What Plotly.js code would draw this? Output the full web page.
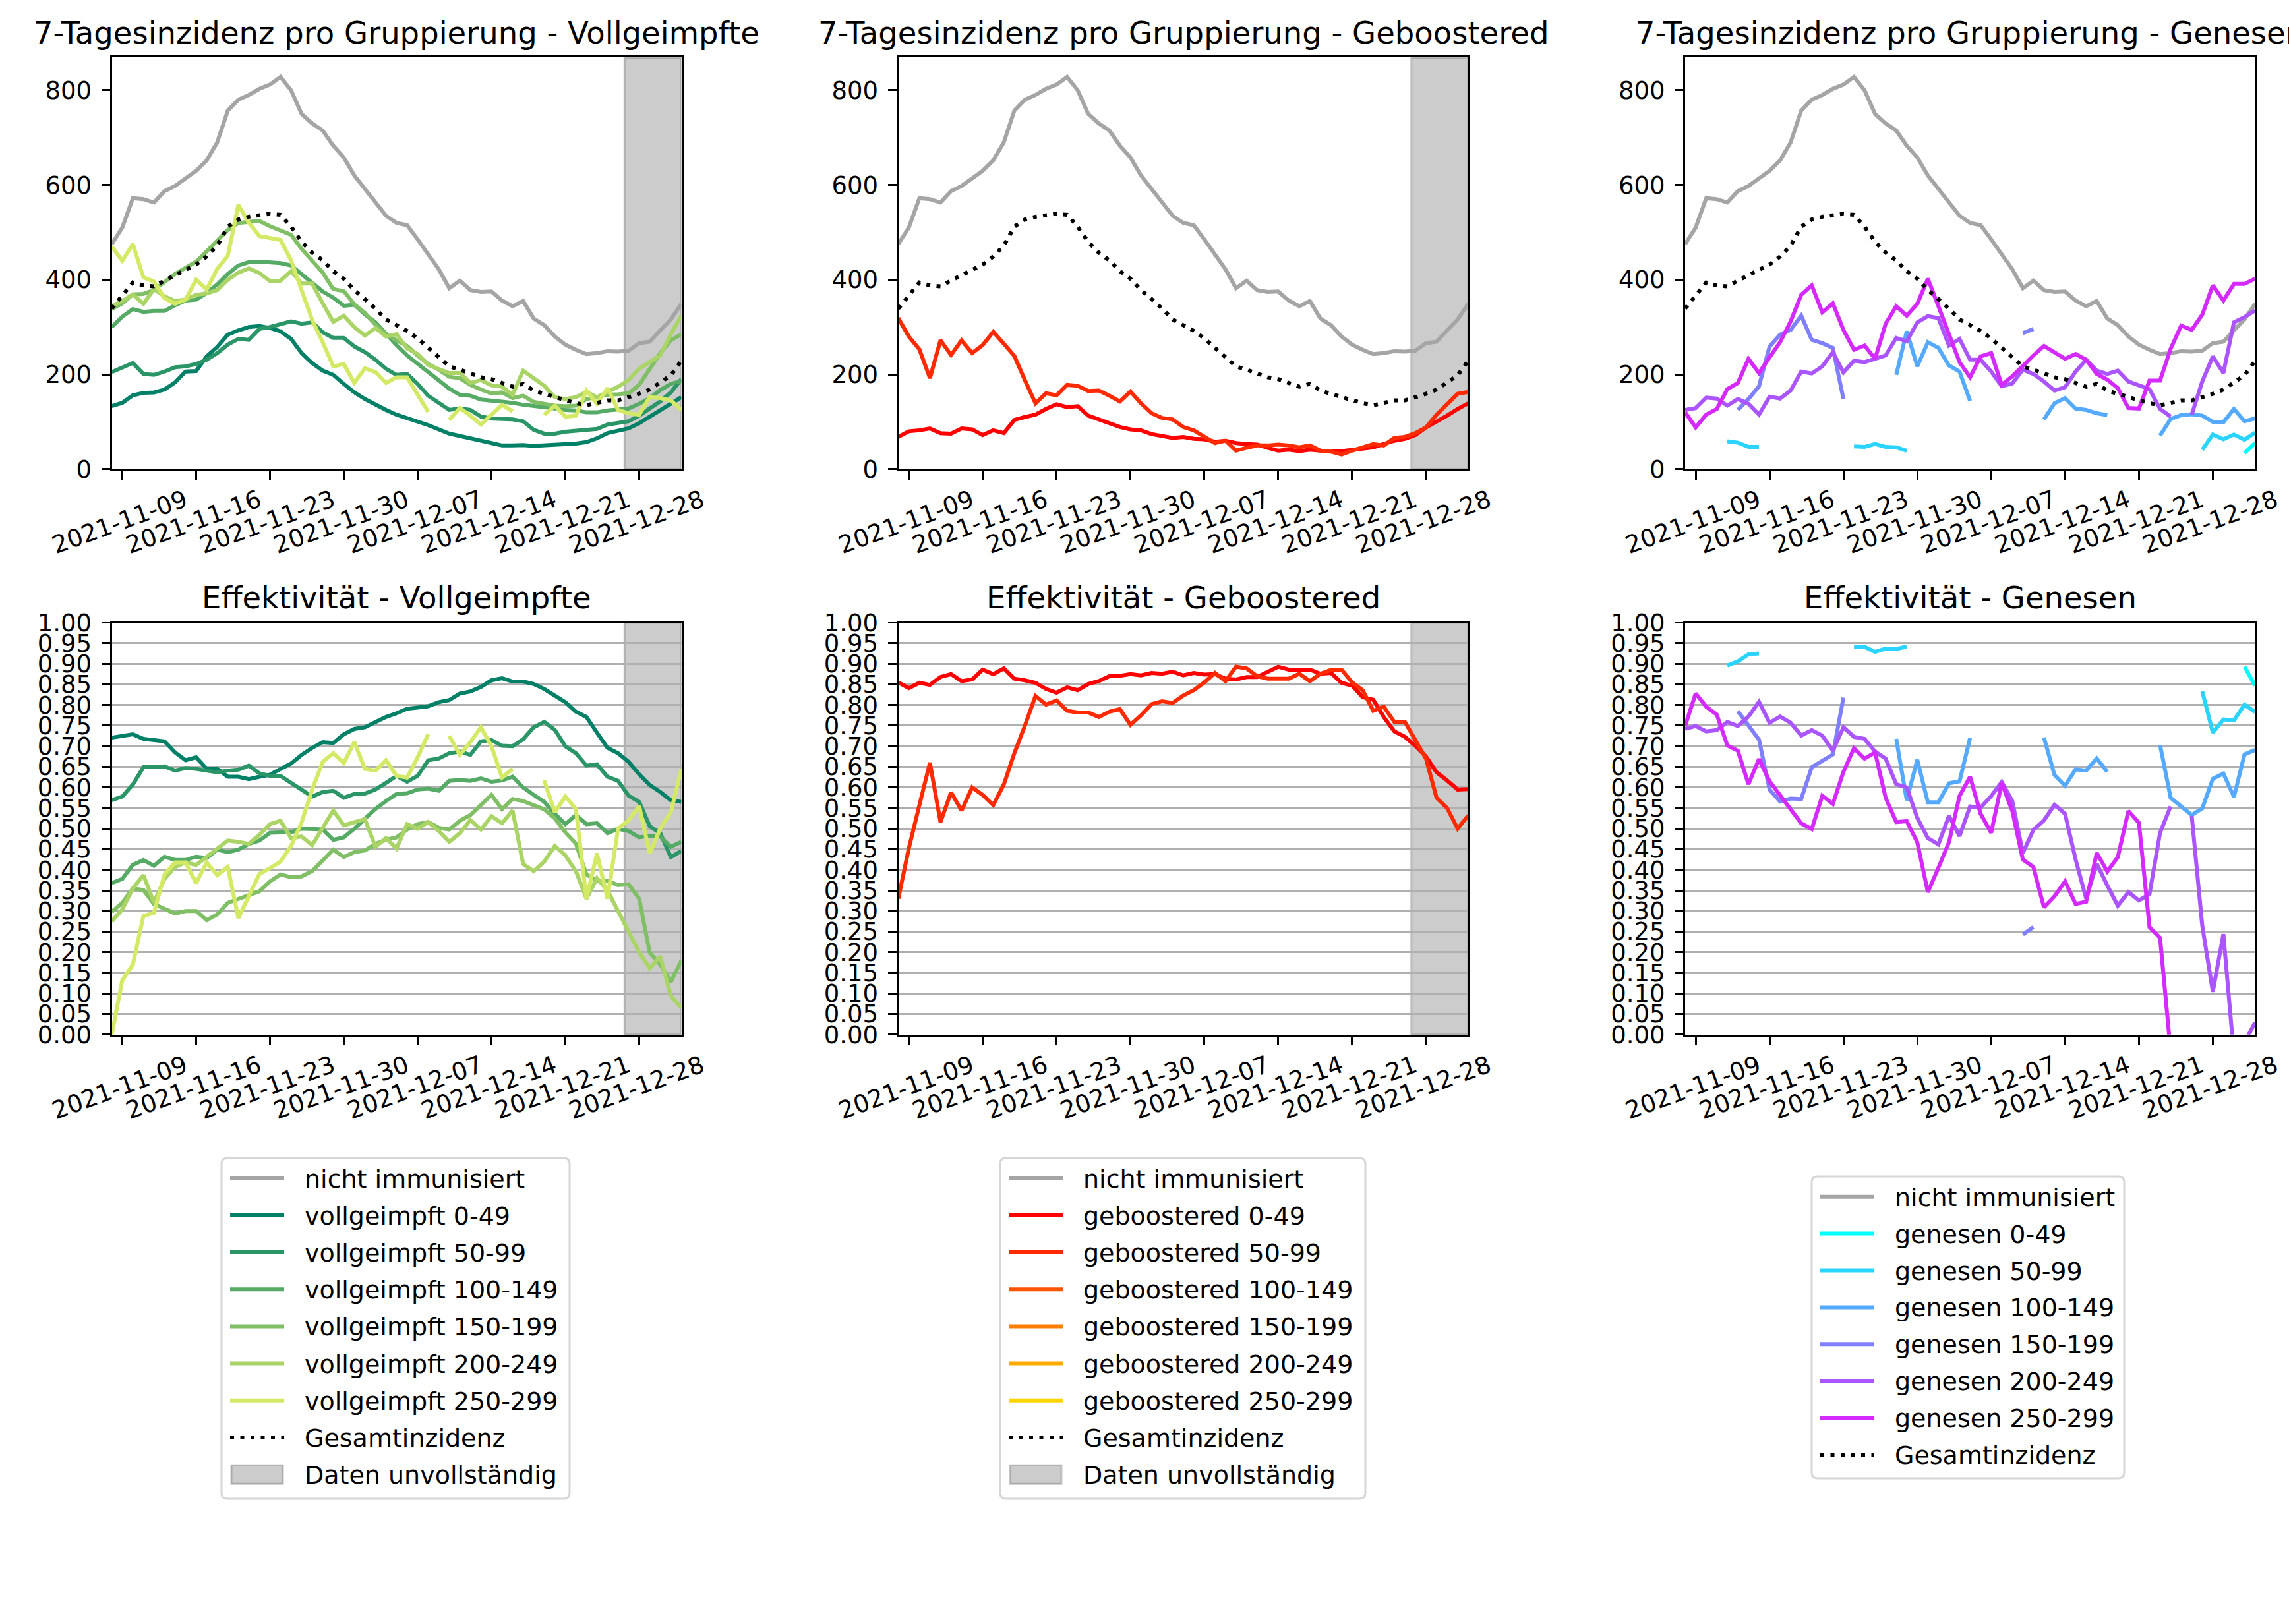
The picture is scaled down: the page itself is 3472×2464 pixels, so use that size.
<!DOCTYPE html>
<html><head><meta charset="utf-8">
<script src="https://cdn.plot.ly/plotly-3.0.1.min.js"></script>
<style>html,body{margin:0;padding:0;background:#fff;}</style>
</head><body>
<div id="chart" style="width:3472px;height:2464px;"></div>
<script>
// ---------------- DATA ----------------
const dates = ['2021-11-08','2021-11-09','2021-11-10','2021-11-11','2021-11-12','2021-11-13','2021-11-14','2021-11-15','2021-11-16','2021-11-17','2021-11-18','2021-11-19','2021-11-20','2021-11-21','2021-11-22','2021-11-23','2021-11-24','2021-11-25','2021-11-26','2021-11-27','2021-11-28','2021-11-29','2021-11-30','2021-12-01','2021-12-02','2021-12-03','2021-12-04','2021-12-05','2021-12-06','2021-12-07','2021-12-08','2021-12-09','2021-12-10','2021-12-11','2021-12-12','2021-12-13','2021-12-14','2021-12-15','2021-12-16','2021-12-17','2021-12-18','2021-12-19','2021-12-20','2021-12-21','2021-12-22','2021-12-23','2021-12-24','2021-12-25','2021-12-26','2021-12-27','2021-12-28','2021-12-29','2021-12-30','2021-12-31','2022-01-01'];
const tickDates = ['2021-11-09','2021-11-16','2021-11-23','2021-11-30','2021-12-07','2021-12-14','2021-12-21','2021-12-28'];
const tickLabels = ['2021-11-09','2021-11-16','2021-11-23','2021-11-30','2021-12-07','2021-12-14','2021-12-21','2021-12-28'];
const incompleteStart = '2021-12-26 14:40';
const incompleteEnd = '2022-01-01';

const nichtImmunisiert = [475,510,572,570,563,587,598,615,630,652,690,757,780,790,803,812,828,800,750,730,715,683,658,620,592,562,535,520,515,485,455,422,382,398,378,374,375,356,344,355,318,304,280,263,252,243,245,249,248,250,266,269,293,316,349];
const gesamtInzidenz = [339,367,394,388,386,398,410,421,432,449,472,512,527,533,537,539,537,512,480,457,441,418,402,378,359,339,316,304,292,276,257,237,217,210,202,194,190,182,174,180,166,159,152,144,139,135,141,145,145,151,159,168,182,198,229];

// Vollgeimpfte - 7-Tagesinzidenz
const vollInz_0_49 = [133,140,156,161,162,168,183,206,207,238,258,284,293,300,302,298,291,275,245,224,208,199,180,162,148,136,125,115,108,100,93,84,75,70,66,60,55,50,50,51,49,50,51,51,54,57,65,76,80,86,97,110,125,138,152];
const vollInz_50_99 = [205,215,224,201,199,206,215,217,222,231,245,263,275,273,296,300,305,312,307,310,289,277,277,259,247,231,212,199,201,180,155,141,125,128,125,111,107,106,105,101,83,75,75,79,81,84,85,94,97,101,113,127,143,162,190];
const vollInz_100_149 = [300,322,338,332,334,334,346,356,358,372,390,412,430,437,438,436,435,430,412,395,375,362,345,347,327,310,285,262,240,222,205,188,170,157,155,147,145,143,140,136,134,131,128,125,124,120,120,124,125,128,138,150,167,180,186];
const vollInz_150_199 = [338,350,369,370,378,395,412,425,438,460,482,505,520,522,524,513,505,495,465,440,415,380,376,348,330,305,285,272,260,240,222,210,195,192,178,168,160,162,150,155,142,138,134,133,134,148,152,157,158,160,178,212,245,272,285];
const vollInz_200_249 = [344,355,369,349,380,365,355,358,368,371,378,400,415,424,414,397,398,418,392,392,350,311,324,300,282,298,280,285,255,243,220,212,203,203,182,188,177,174,157,208,192,176,152,148,152,163,152,162,174,188,212,226,240,285,324];
const vollInz_250_299 = [470,440,475,405,396,361,349,358,400,379,423,450,558,520,492,488,484,441,378,315,268,217,222,182,213,205,182,194,194,159,121,null,104,129,113,94,115,136,122,null,null,115,134,111,113,166,138,171,125,118,115,152,150,145,125];

// Geboostered - 7-Tagesinzidenz
const boostInz_0_49 = [68,80,82,86,76,75,86,84,72,82,76,104,110,115,127,137,131,133,113,105,96,89,84,82,74,71,66,68,64,63,58,60,55,53,52,45,39,41,38,41,39,37,38,41,45,46,53,60,64,72,88,100,113,127,139];
const boostInz_50_99 = [319,280,253,192,272,241,272,245,262,290,265,239,188,139,160,156,178,176,165,166,155,143,164,139,118,108,105,89,82,68,55,60,39,45,50,50,52,50,46,50,39,37,31,39,45,53,50,66,68,76,88,115,137,159,163];
const boostInz_100_149 = [null];
const boostInz_150_199 = [null];
const boostInz_200_249 = [null];
const boostInz_250_299 = [null];

// Genesen - 7-Tagesinzidenz
const genInz_0_49 = [null,null,null,null,null,null,null,null,null,null,null,null,null,null,null,null,null,null,null,null,null,null,null,null,null,null,null,null,null,null,null,null,null,null,null,null,null,null,null,null,null,null,null,null,null,null,null,null,null,null,null,null,null,34,55];
const genInz_50_99 = [null,null,null,null,59,56,47,47,null,null,null,null,null,null,null,null,48,47,53,47,46,39,null,null,null,null,null,null,null,null,null,null,null,null,null,null,null,null,null,null,null,null,null,null,null,null,null,null,null,41,73,63,73,62,77];
const genInz_100_149 = [null,null,null,null,null,null,null,null,null,null,null,null,null,null,null,null,null,null,null,null,199,291,217,268,256,219,206,144,null,null,null,null,null,null,105,139,150,128,125,118,114,null,null,null,null,71,106,114,116,113,100,99,127,101,107];
const genInz_150_199 = [null,null,null,null,null,125,148,175,259,284,294,324,273,266,256,148,null,null,null,null,null,null,null,null,null,null,null,null,null,null,null,null,287,296,null,null,null,null,null,null,null,null,null,null,null,null,null,null,null,null,null,null,null,null,null];
const genInz_200_249 = [125,129,151,149,134,148,138,115,153,149,166,206,202,217,247,204,229,226,233,240,277,270,310,323,319,261,275,231,231,206,175,181,210,201,185,166,173,206,231,208,201,208,185,178,169,127,111,null,115,185,238,203,310,321,335];
const genInz_250_299 = [120,88,115,127,169,182,233,203,236,268,312,368,388,331,350,294,252,261,233,307,344,324,349,402,344,282,226,194,238,245,178,196,219,240,260,247,233,243,231,201,189,171,129,128,187,187,254,303,294,326,388,356,391,391,402];

// Effektivität - Vollgeimpfte
const vollEff_0_49 = [0.721,0.725,0.729,0.718,0.714,0.712,0.685,0.666,0.673,0.645,0.645,0.626,0.626,0.62,0.626,0.631,0.645,0.658,0.679,0.696,0.71,0.708,0.729,0.742,0.746,0.759,0.771,0.78,0.791,0.794,0.797,0.807,0.812,0.828,0.833,0.844,0.86,0.865,0.857,0.857,0.851,0.839,0.822,0.807,0.784,0.771,0.733,0.696,0.683,0.662,0.632,0.606,0.589,0.569,0.565];
const vollEff_50_99 = [0.569,0.578,0.607,0.649,0.649,0.651,0.641,0.647,0.645,0.641,0.637,0.641,0.643,0.653,0.634,0.628,0.628,0.611,0.595,0.578,0.589,0.592,0.575,0.584,0.585,0.595,0.611,0.628,0.614,0.628,0.666,0.67,0.683,0.687,0.679,0.712,0.715,0.701,0.7,0.717,0.746,0.759,0.74,0.7,0.683,0.653,0.656,0.626,0.616,0.58,0.565,0.506,0.489,0.431,0.446];
const vollEff_100_149 = [0.368,0.378,0.412,0.424,0.41,0.432,0.424,0.424,0.432,0.429,0.449,0.443,0.449,0.463,0.471,0.49,0.491,0.491,0.5,0.5,0.498,0.473,0.479,0.5,0.523,0.548,0.567,0.584,0.586,0.595,0.597,0.592,0.616,0.618,0.616,0.622,0.614,0.617,0.626,0.6,0.582,0.565,0.536,0.511,0.533,0.511,0.513,0.489,0.5,0.494,0.479,0.483,0.481,0.456,0.468];
const vollEff_150_199 = [0.298,0.32,0.355,0.351,0.317,0.306,0.294,0.3,0.3,0.278,0.292,0.32,0.33,0.34,0.348,0.372,0.389,0.382,0.384,0.397,0.424,0.449,0.431,0.443,0.447,0.463,0.473,0.479,0.498,0.511,0.516,0.502,0.498,0.519,0.533,0.558,0.582,0.547,0.572,0.567,0.557,0.547,0.525,0.491,0.464,0.389,0.372,0.373,0.363,0.365,0.33,0.199,0.17,0.128,0.18];
const vollEff_200_249 = [0.275,0.304,0.355,0.387,0.321,0.378,0.407,0.418,0.412,0.431,0.452,0.471,0.468,0.463,0.485,0.511,0.519,0.477,0.481,0.46,0.502,0.544,0.508,0.516,0.523,0.456,0.477,0.452,0.511,0.5,0.516,0.494,0.468,0.489,0.521,0.498,0.53,0.513,0.544,0.414,0.397,0.42,0.458,0.435,0.397,0.33,0.38,0.35,0.3,0.254,0.2,0.161,0.19,0.094,0.065];
const vollEff_250_299 = [0.0,0.132,0.17,0.288,0.296,0.389,0.418,0.418,0.368,0.418,0.387,0.407,0.283,0.338,0.39,0.404,0.42,0.458,0.515,0.595,0.662,0.683,0.659,0.71,0.645,0.641,0.666,0.628,0.624,0.673,0.729,null,0.725,0.679,0.71,0.746,0.7,0.624,0.645,null,null,0.617,0.54,0.578,0.548,0.33,0.44,0.33,0.5,0.52,0.555,0.44,0.5,0.54,0.645];

// Effektivität - Geboostered
const boostEff_0_49 = [0.855,0.841,0.854,0.849,0.868,0.875,0.858,0.862,0.886,0.875,0.889,0.864,0.86,0.854,0.839,0.83,0.843,0.836,0.851,0.858,0.87,0.871,0.875,0.872,0.878,0.876,0.881,0.872,0.878,0.874,0.875,0.864,0.862,0.868,0.868,0.881,0.893,0.886,0.886,0.886,0.876,0.878,0.854,0.847,0.819,0.813,0.771,0.736,0.723,0.701,0.675,0.637,0.617,0.595,0.596];
const boostEff_50_99 = [0.33,0.452,0.557,0.66,0.516,0.588,0.544,0.6,0.582,0.557,0.607,0.683,0.75,0.822,0.801,0.811,0.786,0.782,0.782,0.771,0.784,0.79,0.752,0.775,0.802,0.809,0.805,0.823,0.836,0.855,0.878,0.858,0.893,0.889,0.87,0.864,0.864,0.864,0.876,0.858,0.876,0.885,0.886,0.855,0.836,0.786,0.796,0.759,0.759,0.715,0.67,0.575,0.55,0.5,0.532];

// Effektivität - Genesen
const genEff_0_49 = [null,null,null,null,null,null,null,null,null,null,null,null,null,null,null,null,null,null,null,null,null,null,null,null,null,null,null,null,null,null,null,null,null,null,null,null,null,null,null,null,null,null,null,null,null,null,null,null,null,null,null,null,null,0.893,0.847];
const genEff_50_99 = [null,null,null,null,0.896,0.906,0.923,0.925,null,null,null,null,null,null,null,null,0.942,0.941,0.929,0.937,0.936,0.942,null,null,null,null,null,null,null,null,null,null,null,null,null,null,null,null,null,null,null,null,null,null,null,null,null,null,null,0.833,0.733,0.765,0.763,0.801,0.783];
const genEff_100_149 = [null,null,null,null,null,null,null,null,null,null,null,null,null,null,null,null,null,null,null,null,0.718,0.569,0.667,0.564,0.564,0.61,0.615,0.72,null,null,null,null,null,null,0.721,0.63,0.604,0.644,0.641,0.67,0.638,null,null,null,null,0.703,0.575,0.554,0.533,0.549,0.621,0.634,0.577,0.68,0.691];
const genEff_150_199 = [null,null,null,null,null,0.785,0.749,0.716,0.595,0.566,0.573,0.572,0.649,0.664,0.68,0.818,null,null,null,null,null,null,null,null,null,null,null,null,null,null,null,null,0.243,0.261,null,null,null,null,null,null,null,null,null,null,null,null,null,null,null,null,null,null,null,null,null];
const genEff_200_249 = [0.742,0.749,0.736,0.739,0.759,0.749,0.772,0.808,0.757,0.772,0.757,0.726,0.739,0.726,0.689,0.746,0.723,0.718,0.687,0.67,0.608,0.6,0.526,0.477,0.462,0.531,0.482,0.554,0.551,0.579,0.613,0.567,0.441,0.497,0.52,0.558,0.536,0.425,0.33,0.415,0.362,0.313,0.346,0.326,0.341,0.49,0.554,null,0.531,0.264,0.104,0.244,-0.05,-0.02,0.03];
const genEff_250_299 = [0.749,0.828,0.796,0.777,0.702,0.689,0.608,0.669,0.615,0.58,0.546,0.513,0.499,0.58,0.56,0.638,0.695,0.67,0.685,0.575,0.516,0.518,0.467,0.346,0.405,0.467,0.579,0.626,0.536,0.49,0.611,0.543,0.425,0.407,0.309,0.336,0.372,0.317,0.323,0.441,0.396,0.431,0.543,0.514,0.261,0.235,-0.04];

const groupLabels = ['0-49','50-99','100-149','150-199','200-249','250-299'];
const vollColors = ['#008066','#2a9566','#55aa66','#80bf66','#aad466','#d4ea66'];
const boostColors = ['#ff0000','#ff2a00','#ff5500','#ff8000','#ffaa00','#ffd400'];
const genColors = ['#00ffff','#2ad4ff','#55aaff','#8080ff','#aa55ff','#d42aff'];

// ---------------- LAYOUT HELPERS ----------------
const W = 3472, H = 2464;
const FONT = 'DejaVu Sans';
const xCols = [[169.5,1033.5],[1362.5,2227],[2556,3420.5]];
const yRows = [[87.4,711.8],[944.7,1569.8]];
const LW = 6;
const GREY = '#a5a5a5';
const DOT = '6px,9.5px';
const SHADE_FILL = 'rgba(128,128,128,0.4)';
const SHADE_EDGE = 'rgba(128,128,128,0.45)';

function dom(a,b,total){return [a/total,b/total];}
function ydom(top,bottom){return [1-bottom/H,1-top/H];}
function px(x){return x/W;}
function py(y){return 1-y/H;}

const traces = [];
function addLine(y, name, color, ax, dash) {
  traces.push({
    type:'scatter', mode:'lines',
    x: dates.slice(0, y.length), y: y, name: name,
    xaxis: 'x'+(ax===1?'':ax), yaxis: 'y'+(ax===1?'':ax),
    line:{color:color, width:LW, dash: dash||'solid'},
    connectgaps:false, showlegend:false, hoverinfo:'skip'
  });
}

// Top-left: Vollgeimpfte
const vollInz = [vollInz_0_49,vollInz_50_99,vollInz_100_149,vollInz_150_199,vollInz_200_249,vollInz_250_299];
addLine(nichtImmunisiert,'nicht immunisiert',GREY,1);
vollInz.forEach((s,i)=>addLine(s,'vollgeimpft '+groupLabels[i],vollColors[i],1));
addLine(gesamtInzidenz,'Gesamtinzidenz','#000',1,DOT);

// Top-middle: Geboostered
const boostInz = [boostInz_0_49,boostInz_50_99,boostInz_100_149,boostInz_150_199,boostInz_200_249,boostInz_250_299];
addLine(nichtImmunisiert,'nicht immunisiert',GREY,2);
boostInz.forEach((s,i)=>addLine(s,'geboostered '+groupLabels[i],boostColors[i],2));
addLine(gesamtInzidenz,'Gesamtinzidenz','#000',2,DOT);

// Top-right: Genesen
const genInz = [genInz_0_49,genInz_50_99,genInz_100_149,genInz_150_199,genInz_200_249,genInz_250_299];
addLine(nichtImmunisiert,'nicht immunisiert',GREY,3);
genInz.forEach((s,i)=>addLine(s,'genesen '+groupLabels[i],genColors[i],3));
addLine(gesamtInzidenz,'Gesamtinzidenz','#000',3,DOT);

// Bottom row: Effektivität
const vollEff = [vollEff_0_49,vollEff_50_99,vollEff_100_149,vollEff_150_199,vollEff_200_249,vollEff_250_299];
vollEff.forEach((s,i)=>addLine(s,'vollgeimpft '+groupLabels[i],vollColors[i],4));
const boostEff = [boostEff_0_49,boostEff_50_99];
boostEff.forEach((s,i)=>addLine(s,'geboostered '+groupLabels[i],boostColors[i],5));
const genEff = [genEff_0_49,genEff_50_99,genEff_100_149,genEff_150_199,genEff_200_249,genEff_250_299];
genEff.forEach((s,i)=>addLine(s,'genesen '+groupLabels[i],genColors[i],6));

// ---------------- AXES ----------------
const layout = {
  width:W, height:H, margin:{l:0,r:0,t:0,b:0},
  paper_bgcolor:'#fff', plot_bgcolor:'#fff',
  font:{family:FONT, size:37, color:'#000'},
  showlegend:false,
  annotations:[], shapes:[]
};
const effTicks = []; const effText = [];
for (let k=0;k<=20;k++){ effTicks.push(k*0.05); effText.push((k*0.05).toFixed(2)); }

for (let r=0;r<2;r++){
  for (let c=0;c<3;c++){
    const n = r*3+c+1;
    const xk = 'xaxis'+(n===1?'':n), yk = 'yaxis'+(n===1?'':n);
    layout[xk] = {
      domain: dom(xCols[c][0],xCols[c][1],W), anchor:'y'+(n===1?'':n),
      type:'date', range:[dates[0], dates[dates.length-1]],
      tickmode:'array', tickvals:tickDates, ticktext:tickLabels,
      tickangle:-20, ticklabelshift:95, ticklabelstandoff:-4,
      ticks:'outside', ticklen:13, tickwidth:3, tickcolor:'#000',
      showline:true, mirror:true, linecolor:'#000', linewidth:3,
      showgrid:false, zeroline:false,
      tickfont:{family:FONT,size:37,color:'#000'}, fixedrange:true
    };
    const ya = {
      domain: ydom(yRows[r][0],yRows[r][1]), anchor:'x'+(n===1?'':n),
      ticks:'outside', ticklen:13, tickwidth:3, tickcolor:'#000', ticklabelstandoff:7,
      showline:true, mirror:true, linecolor:'#000', linewidth:3,
      zeroline:false, tickfont:{family:FONT,size:37,color:'#000'}, fixedrange:true
    };
    if (r===0){
      ya.range=[0,869]; ya.tickmode='array'; ya.tickvals=[0,200,400,600,800]; ya.ticktext=['0','200','400','600','800']; ya.showgrid=false;
    } else {
      ya.range=[0,1]; ya.tickmode='array'; ya.tickvals=effTicks; ya.ticktext=effText;
      ya.showgrid=true; ya.gridcolor='#b0b0b0'; ya.gridwidth=3;
    }
    layout[yk]=ya;
  }
}

// Titles
const topTitles = ['7-Tagesinzidenz pro Gruppierung - Vollgeimpfte','7-Tagesinzidenz pro Gruppierung - Geboostered','7-Tagesinzidenz pro Gruppierung - Genesen'];
const botTitles = ['Effektivität - Vollgeimpfte','Effektivität - Geboostered','Effektivität - Genesen'];
for (let c=0;c<3;c++){
  const cx = (xCols[c][0]+xCols[c][1])/2/W;
  layout.annotations.push({text:topTitles[c], xref:'paper', yref:'paper', x:cx, y:py(79), xanchor:'center', yanchor:'bottom', showarrow:false, font:{family:FONT,size:46.5,color:'#000'}});
  layout.annotations.push({text:botTitles[c], xref:'paper', yref:'paper', x:cx, y:py(936), xanchor:'center', yanchor:'bottom', showarrow:false, font:{family:FONT,size:46.5,color:'#000'}});
}

// Incomplete-data shading (first two columns)
[1,2,4,5].forEach(n=>{
  layout.shapes.push({type:'rect', xref:'x'+(n===1?'':n), yref:'y'+(n===1?'':n)+' domain',
    x0:incompleteStart, x1:incompleteEnd, y0:0, y1:1, layer:'below',
    fillcolor:SHADE_FILL, line:{color:SHADE_EDGE, width:3}});
});

// ---------------- LEGENDS (one box per column) ----------------
function roundRectPath(l,t,r,b,rad){
  const X=v=>px(v).toFixed(6), Y=v=>py(v).toFixed(6);
  return 'M'+X(l+rad)+','+Y(t)+' L'+X(r-rad)+','+Y(t)+' Q'+X(r)+','+Y(t)+' '+X(r)+','+Y(t+rad)+
    ' L'+X(r)+','+Y(b-rad)+' Q'+X(r)+','+Y(b)+' '+X(r-rad)+','+Y(b)+
    ' L'+X(l+rad)+','+Y(b)+' Q'+X(l)+','+Y(b)+' '+X(l)+','+Y(b-rad)+
    ' L'+X(l)+','+Y(t+rad)+' Q'+X(l)+','+Y(t)+' '+X(l+rad)+','+Y(t)+' Z';
}
function buildLegend(box, firstRow, rowStep, items){
  layout.shapes.push({type:'path', xref:'paper', yref:'paper', path:roundRectPath(box[0],box[1],box[2],box[3],9),
    fillcolor:'#ffffff', line:{color:'#d6d6d6', width:3}, layer:'above'});
  items.forEach((it,i)=>{
    const yc = firstRow + i*rowStep;
    if (it.kind==='patch'){
      layout.shapes.push({type:'rect', xref:'paper', yref:'paper', x0:px(box[0]+15), x1:px(box[0]+93), y0:py(yc+14), y1:py(yc-14),
        fillcolor:SHADE_FILL, line:{color:SHADE_EDGE, width:3}, layer:'above'});
    } else {
      layout.shapes.push({type:'line', xref:'paper', yref:'paper', x0:px(box[0]+13), x1:px(box[0]+95), y0:py(yc), y1:py(yc),
        line:{color:it.color, width:LW, dash:it.dash||'solid'}, layer:'above'});
    }
    layout.annotations.push({text:it.name, xref:'paper', yref:'paper', x:px(box[0]+124), y:py(yc+1), xanchor:'left', yanchor:'middle',
      showarrow:false, font:{family:FONT,size:38,color:'#000'}});
  });
}
function legendItems(prefix, colors, withPatch){
  const it = [{name:'nicht immunisiert', color:GREY}];
  groupLabels.forEach((g,i)=>it.push({name:prefix+' '+g, color:colors[i]}));
  it.push({name:'Gesamtinzidenz', color:'#000', dash:DOT});
  if (withPatch) it.push({name:'Daten unvollständig', kind:'patch'});
  return it;
}
buildLegend([336,1757,864,2274], 1787.6, 56.2, legendItems('vollgeimpft', vollColors, true));
buildLegend([1517,1757,2071,2274], 1787.6, 56.2, legendItems('geboostered', boostColors, true));
buildLegend([2748,1785,3222,2243], 1815.7, 55.9, legendItems('genesen', genColors, false));

Plotly.newPlot('chart', traces, layout, {displayModeBar:false, staticPlot:true});
</script>
</body></html>
